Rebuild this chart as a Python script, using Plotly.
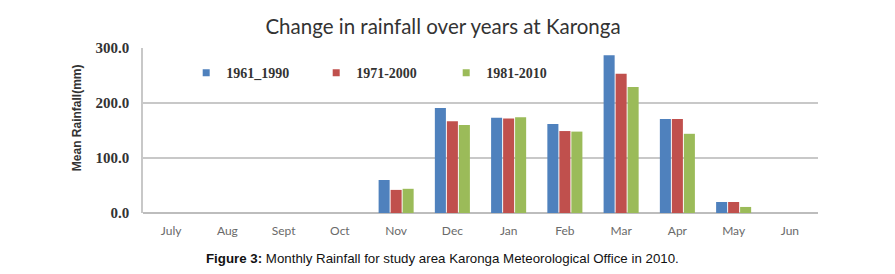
import plotly.graph_objects as go

months = ["July", "Aug", "Sept", "Oct", "Nov", "Dec", "Jan", "Feb", "Mar", "Apr", "May", "Jun"]
series_names = ["1961_1990", "1971-2000", "1981-2010"]
vals_1961_1990 = [0, 0, 0, 0, 60, 191, 173, 162, 287, 171, 20, 0]
vals_1971_2000 = [0, 0, 0, 0, 42, 167, 172, 149, 253, 171, 20, 0]
vals_1981_2010 = [0, 0, 0, 0, 44, 160, 174, 148, 229, 144, 11, 0]
colors = ["#4F81BD", "#C0504D", "#9BBB59"]
y_ticks = [0, 100, 200, 300]
y_tick_text = ["0.0", "100.0", "200.0", "300.0"]

fig = go.Figure()
for name, vals, c in zip(series_names, [vals_1961_1990, vals_1971_2000, vals_1981_2010], colors):
    fig.add_trace(go.Bar(x=months, y=vals, name=name, showlegend=False,
                         marker=dict(color=c, line=dict(width=0))))
# legend entries with small square swatches
for name, c in zip(series_names, colors):
    fig.add_trace(go.Scatter(x=[None], y=[None], mode="markers", name="<b>" + name + "</b>",
                             marker=dict(symbol="square", size=7, color=c)))

fig.update_layout(
    width=895, height=274,
    margin=dict(l=143, r=77, t=48, b=61),
    paper_bgcolor="white", plot_bgcolor="white",
    barmode="group", bargap=0.36, bargroupgap=0.08,
    title=dict(text="Change in rainfall over years at Karonga", x=0.495, xanchor="center",
               y=0.9015, yanchor="middle", yref="container",
               font=dict(family="Lato", size=20.5, color="#333333")),
    legend=dict(orientation="h", x=0.064, y=0.848, xanchor="left", yanchor="middle",
                entrywidth=85, entrywidthmode="pixels", bgcolor="rgba(0,0,0,0)",
                font=dict(family="Liberation Serif", size=14, color="#333333"),
                itemsizing="trace"),
    xaxis=dict(showline=False, tickfont=dict(family="Lato", size=12, color="#6A6A6A"),
               ticks="", showgrid=False, ticklabelstandoff=9),
    yaxis=dict(range=[0, 300], tickvals=y_ticks, ticktext=["<b>" + t + "</b>" for t in y_tick_text],
               showgrid=True, gridcolor="#C8C8C8", gridwidth=1.5,
               showline=True, linecolor="#C8C8C8", linewidth=1.5,
               zeroline=True, zerolinecolor="#BDBDBD", zerolinewidth=2,
               tickfont=dict(family="Liberation Serif", size=15, color="#333333"),
               ticklabelstandoff=9),
    font=dict(family="Lato"),
)
fig.add_annotation(text="<b>Mean Rainfall(mm)</b>", xref="paper", yref="paper",
                   x=-0.098, y=0.58, xanchor="center", yanchor="middle", textangle=-90,
                   showarrow=False, font=dict(family="Liberation Sans", size=12, color="#333333"))
fig.add_annotation(text="<b>Figure 3:</b> Monthly Rainfall for study area Karonga Meteorological Office in 2010.",
                   xref="paper", yref="paper", x=0.444, y=-0.273, xanchor="center", yanchor="middle",
                   showarrow=False, font=dict(family="Liberation Sans", size=13.3, color="#111111"))
fig.write_html("out.html", config={"displayModeBar": False},
               post_script="document.body.style.margin='0px';")
